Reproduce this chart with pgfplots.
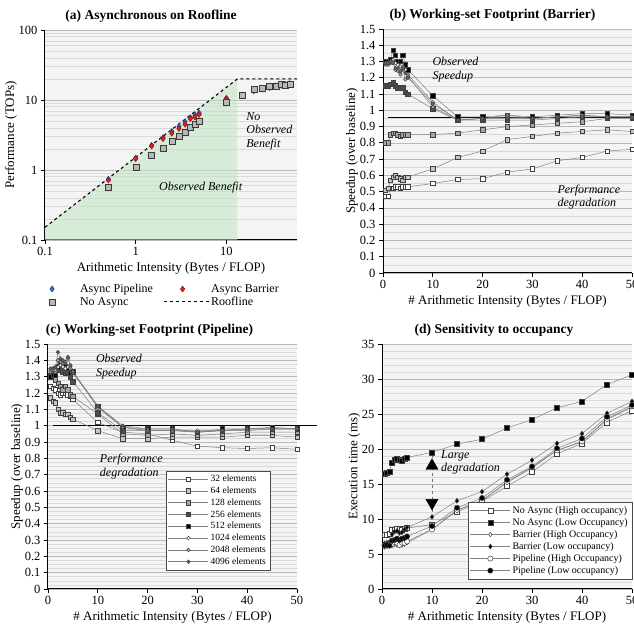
\documentclass[border=0pt]{standalone}
\usepackage{pgfplots}
\pgfplotsset{compat=1.18}
\usepackage{pgfplotstable}
\usepackage{fontspec}
\setmainfont{Liberation Serif}

\definecolor{panelbg}{gray}{0.955}
\definecolor{benefit}{RGB}{190,230,196}
\definecolor{pipeblue}{RGB}{55,105,205}
\definecolor{barrred}{RGB}{225,30,30}
\definecolor{sqgray}{gray}{0.72}
\definecolor{linegray}{gray}{0.5}

% (a) performance on the roofline
\pgfplotstableread{
x    pipe   barr   none
0.5  0.74   0.72   0.56
1    1.48   1.45   1.10
1.5  2.25   2.20   1.65
2    2.90   2.80   2.05
2.5  3.55   3.35   2.55
3    4.20   3.90   3.00
3.5  4.90   4.50   3.50
4    5.60   5.40   4.10
4.5  6.10   5.70   4.50
5    6.50   6.20   5.00
10   10.6   10.3   9.30
15   11.8   11.4   11.8
20   14.0   13.5   14.2
25   14.8   14.3   14.8
30   15.6   15.0   15.8
35   16.0   15.6   16.0
40   16.6   16.2   16.6
45   16.6   16.2   16.4
50   17.2   16.8   17.0
}\roofdata

% (b) barrier speedup per working-set size
\pgfplotstableread{
x    e32   e64   e128  e256  e512  e1024 e2048 e4096
0.5  0.47  0.51  0.80  1.15  1.30  1.29  1.28  1.29
1    0.47  0.52  0.80  1.15  1.30  1.29  1.28  1.29
1.5  0.52  0.57  0.85  1.16  1.31  1.30  1.29  1.30
2    0.52  0.59  0.86  1.17  1.37  1.31  1.30  1.29
2.5  0.53  0.60  0.86  1.15  1.34  1.29  1.25  1.26
3    0.53  0.59  0.85  1.14  1.30  1.28  1.24  1.26
3.5  0.52  0.58  0.84  1.14  1.30  1.27  1.22  1.24
4    0.53  0.57  0.85  1.14  1.34  1.27  1.25  1.26
4.5  0.53  0.59  0.85  1.11  1.28  1.25  1.19  1.23
5    0.53  0.59  0.85  1.10  1.25  1.22  1.21  1.20
10   0.55  0.64  0.85  1.01  1.09  1.05  1.02  1.04
15   0.575 0.71  0.86  0.94  0.96  0.94  0.94  0.94
20   0.58  0.75  0.88  0.94  0.96  0.95  0.95  0.95
25   0.62  0.82  0.90  0.94  0.97  0.97  0.96  0.95
30   0.64  0.84  0.91  0.94  0.96  0.95  0.95  0.95
35   0.69  0.86  0.92  0.95  0.97  0.96  0.96  0.96
40   0.71  0.87  0.93  0.96  0.98  0.97  0.97  0.96
45   0.75  0.88  0.95  0.96  0.98  0.96  0.96  0.96
50   0.76  0.87  0.95  0.96  0.97  0.96  0.96  0.96
}\barrierdata

% (c) pipeline speedup per working-set size
\pgfplotstableread{
x    e32   e64   e128  e256  e512  e1024 e2048 e4096
0.5  1.24  1.17  1.30  1.31  1.30  1.33  1.34  1.35
1    1.23  1.15  1.31  1.32  1.31  1.34  1.35  1.35
1.5  1.22  1.14  1.28  1.35  1.31  1.33  1.34  1.36
2    1.20  1.10  1.26  1.34  1.36  1.36  1.40  1.45
2.5  1.19  1.08  1.24  1.35  1.38  1.37  1.39  1.41
3    1.20  1.08  1.22  1.33  1.37  1.36  1.38  1.40
3.5  1.20  1.07  1.24  1.32  1.36  1.35  1.39  1.38
4    1.19  1.07  1.22  1.33  1.35  1.36  1.41  1.42
4.5  1.18  1.05  1.19  1.30  1.32  1.35  1.36  1.37
5    1.16  1.04  1.18  1.27  1.33  1.33  1.33  1.32
10   1.02  0.97  1.07  1.08  1.12  1.11  1.12  1.12
15   0.96  0.92  0.95  0.97  0.99  0.99  0.99  1.00
20   0.95  0.92  0.94  0.97  0.98  0.97  0.97  0.98
25   0.91  0.93  0.95  0.97  0.98  0.97  0.97  0.98
30   0.875 0.93  0.94  0.96  0.96  0.97  0.96  0.96
35   0.865 0.93  0.95  0.97  0.98  0.97  0.97  0.97
40   0.86  0.94  0.96  0.98  0.98  0.97  0.98  0.98
45   0.865 0.94  0.96  0.98  0.99  0.98  0.98  0.98
50   0.855 0.93  0.96  0.98  0.98  0.98  0.98  0.98
}\pipelinedata

% (d) execution time, high vs low occupancy
\pgfplotstableread{
x    nh    nl    bh    bl    ph    pl
0.5  7.8   16.5  6.0   6.5   6.2   6.2
1    7.8   16.6  6.1   6.6   6.2   6.3
1.5  7.9   16.7  6.1   6.7   6.3   6.2
2    8.4   18.1  6.2   7.8   6.4   6.9
2.5  8.5   18.5  6.4   8.2   6.7   7.0
3    8.6   18.6  6.3   8.3   6.6   7.2
3.5  8.6   18.5  6.2   8.0   6.3   7.0
4    8.5   18.3  6.3   8.1   6.6   7.2
4.5  8.6   18.6  6.4   8.5   6.6   7.3
5    8.7   18.8  6.6   8.8   6.8   7.5
10   9.2   19.5  8.5   10.3  8.5   9.0
15   11.0  20.7  11.2  12.6  11.3  11.6
20   12.5  21.4  12.7  13.9  12.6  13.0
25   14.7  23.0  15.2  16.4  15.3  15.6
30   16.7  24.2  17.3  18.4  17.4  17.5
35   19.3  25.9  19.8  20.8  19.8  20.1
40   20.8  26.8  21.0  22.2  21.1  21.5
45   23.8  29.2  24.2  25.1  24.3  24.6
50   25.5  30.6  26.0  26.8  26.1  26.3
}\occdata

\tikzset{annot/.style={font=\fontsize{12}{13.5}\selectfont\itshape, align=left, inner sep=0pt}}

\pgfplotsset{
  panel/.style={
    scale only axis,
    axis lines=left,
    axis line style={-, black, line width=1pt},
    tick align=outside,
    major tick length=4pt,
    minor tick length=0pt,
    tick style={black, line width=0.8pt},
    axis background/.style={fill=panelbg},
    ymajorgrids, yminorgrids,
    major grid style={gray!55, line width=0.7pt},
    minor grid style={gray!30, line width=0.6pt},
    tick label style={font=\fontsize{12.5}{14}\selectfont},
    label style={font=\fontsize{13}{15}\selectfont},
    title style={font=\fontsize{13.5}{15}\selectfont\bfseries},
    ylabel shift=-5pt,
    /pgf/number format/assume math mode=true,
    legend cell align=left,
  },
  ws/.style={color=linegray, line width=0.5pt, mark size=2.2pt,
    mark options={solid, draw=black!75, fill=#1}},
  wsleg/.style={
    legend image code/.code={
      \draw[mark repeat=2, mark phase=2, ##1] plot coordinates {(0pt,0pt) (20pt,0pt) (40pt,0pt)};}},
  markleg/.style={
    legend image code/.code={
      \path[draw=none, fill=none] (0pt,0pt) (45pt,0pt);
      \draw[##1] plot coordinates {(19pt,0pt)};}},
  roofleg/.style={
    legend image code/.code={\draw[##1] (0pt,0pt) -- (45pt,0pt);}},
}

\begin{document}
\begin{tikzpicture}
\useasboundingbox (0,0) rectangle (634pt,628pt);

% ---------------- (a)
\begin{axis}[panel,
  at={(45pt,388pt)}, anchor=south west, width=252pt, height=210pt,
  xmode=log, ymode=log, xmin=0.1, xmax=60, ymin=0.1, ymax=100,
  xtick={0.1,1,10}, xticklabels={0.1,1,10},
  ytick={0.1,1,10,100}, yticklabels={0.1,1,10,100},
  title={(a) Asynchronous on Roofline}, title style={xshift=-20pt, yshift=-2pt},
  xlabel={Arithmetic Intensity (Bytes / FLOP)},
  ylabel={Performance (TOPs)},
  legend columns=2,
  legend style={at={(-0.06,-0.19)}, anchor=north west, draw=none, fill=none,
    font=\fontsize{12}{13}\selectfont, row sep=-1pt,
    /tikz/every even column/.append style={column sep=8pt}},
]
\addplot[fill=benefit, fill opacity=0.55, draw=none, forget plot]
  coordinates {(0.1,0.1) (0.1,0.152) (13.2,20) (13.2,0.1)} -- cycle;
\addplot[only marks, mark=diamond*, mark size=3pt, markleg,
  mark options={fill=pipeblue, draw=pipeblue!60!black}]
  table[x=x, y=pipe] {\roofdata};
\addlegendentry{Async Pipeline}
\addplot[only marks, mark=diamond*, mark size=3pt, markleg,
  mark options={fill=barrred, draw=barrred!60!black}]
  table[x=x, y=barr] {\roofdata};
\addlegendentry{Async Barrier}
\addplot[only marks, mark=square*, mark size=3pt, markleg,
  mark options={fill=sqgray, draw=gray!45!black}]
  table[x=x, y=none] {\roofdata};
\addlegendentry{No Async}
\addplot[black, dashed, line width=1.1pt, roofleg]
  coordinates {(0.1,0.152) (13.2,20) (60,20)};
\addlegendentry{Roofline}
\node[annot, anchor=west] at (axis cs:16.5,3.6) {No\\Observed\\Benefit};
\node[annot] at (axis cs:5.2,0.57) {Observed Benefit};
\end{axis}

% ---------------- (b)
\begin{axis}[panel,
  at={(383pt,355pt)}, anchor=south west, width=249pt, height=244pt,
  xmin=0, xmax=50, ymin=0, ymax=1.5,
  xtick={0,10,20,30,40,50},
  ytick={0,0.1,0.2,0.3,0.4,0.5,0.6,0.7,0.8,0.9,1,1.1,1.2,1.3,1.4,1.5},
  minor y tick num=1,
  title={(b) Working-set Footprint (Barrier)}, title style={xshift=-15pt, yshift=-2pt},
  xlabel={\# Arithmetic Intensity (Bytes / FLOP)},
  ylabel={Speedup (over baseline)},
  clip=false,
]
\addplot[black, line width=1.3pt] coordinates {(1,0.955) (52,0.955)};
\addplot[ws=white, mark=square*] table[x=x, y=e32] {\barrierdata};
\addplot[ws=gray!45, mark=square*] table[x=x, y=e64] {\barrierdata};
\addplot[ws=gray!70, mark=square*] table[x=x, y=e128] {\barrierdata};
\addplot[ws=black!70, mark=square*] table[x=x, y=e256] {\barrierdata};
\addplot[ws=black, mark=square*] table[x=x, y=e512] {\barrierdata};
\addplot[ws=white, mark=*, mark size=1.8pt] table[x=x, y=e1024] {\barrierdata};
\addplot[ws=gray!60, mark=*, mark size=1.8pt] table[x=x, y=e2048] {\barrierdata};
\addplot[ws=black!60, mark=*, mark size=1.8pt] table[x=x, y=e4096] {\barrierdata};
\node[annot, anchor=west] at (axis cs:9.9,1.25) {Observed\\Speedup};
\node[annot, anchor=west] at (axis cs:35,0.468) {Performance\\degradation};
\end{axis}

% ---------------- (c)
\begin{axis}[panel,
  at={(48pt,39pt)}, anchor=south west, width=249pt, height=245pt,
  xmin=0, xmax=50, ymin=0, ymax=1.5,
  xtick={0,10,20,30,40,50},
  ytick={0,0.1,0.2,0.3,0.4,0.5,0.6,0.7,0.8,0.9,1,1.1,1.2,1.3,1.4,1.5},
  minor y tick num=3,
  title={(c) Working-set Footprint (Pipeline)}, title style={xshift=-23pt, yshift=-2pt},
  xlabel={\# Arithmetic Intensity (Bytes / FLOP)},
  ylabel={Speedup (over baseline)},
  clip=false,
  legend style={at={(0.474,0.482)}, anchor=north west, draw=gray!60!black, fill=white,
    font=\fontsize{9.5}{10}\selectfont, row sep=-0.3pt, inner sep=2pt},
]
\addplot[black, line width=1.3pt, forget plot] coordinates {(1,1.003) (54,1.003)};
\addplot[ws=white, mark=square*, wsleg] table[x=x, y=e32] {\pipelinedata};
\addlegendentry{32 elements}
\addplot[ws=gray!45, mark=square*, wsleg] table[x=x, y=e64] {\pipelinedata};
\addlegendentry{64 elements}
\addplot[ws=gray!70, mark=square*, wsleg] table[x=x, y=e128] {\pipelinedata};
\addlegendentry{128 elements}
\addplot[ws=black!70, mark=square*, wsleg] table[x=x, y=e256] {\pipelinedata};
\addlegendentry{256 elements}
\addplot[ws=black, mark=square*, wsleg] table[x=x, y=e512] {\pipelinedata};
\addlegendentry{512 elements}
\addplot[ws=white, mark=*, mark size=1.8pt, wsleg] table[x=x, y=e1024] {\pipelinedata};
\addlegendentry{1024 elements}
\addplot[ws=gray!60, mark=*, mark size=1.8pt, wsleg] table[x=x, y=e2048] {\pipelinedata};
\addlegendentry{2048 elements}
\addplot[ws=black!60, mark=*, mark size=1.8pt, wsleg] table[x=x, y=e4096] {\pipelinedata};
\addlegendentry{4096 elements}
\node[annot, anchor=west] at (axis cs:9.6,1.36) {Observed\\Speedup};
\node[annot, anchor=west] at (axis cs:10.4,0.75) {Performance\\degradation};
\end{axis}

% ---------------- (d)
\begin{axis}[panel,
  at={(382pt,39pt)}, anchor=south west, width=250pt, height=245pt,
  xmin=0, xmax=50, ymin=0, ymax=35,
  xtick={0,10,20,30,40,50},
  ytick={0,5,10,15,20,25,30,35},
  minor y tick num=4,
  title={(d) Sensitivity to occupancy}, title style={xshift=-13pt, yshift=-2pt},
  xlabel={\# Arithmetic Intensity (Bytes / FLOP)},
  ylabel={Execution time (ms)},
  clip=false,
  legend style={at={(1,0.355)}, anchor=north east, draw=gray!60!black, fill=white,
    font=\fontsize{10}{10.5}\selectfont, row sep=-0.4pt, inner sep=2pt},
]
\addplot[ws=white, mark=square*, mark size=2.5pt, wsleg] table[x=x, y=nh] {\occdata};
\addlegendentry{No Async (High occupancy)}
\addplot[ws=black, mark=square*, mark size=2.5pt, wsleg] table[x=x, y=nl] {\occdata};
\addlegendentry{No Async (Low Occupancy)}
\addplot[ws=white, mark=diamond*, mark size=2.2pt, wsleg] table[x=x, y=bh] {\occdata};
\addlegendentry{Barrier (High Occupancy)}
\addplot[ws=black, mark=diamond*, mark size=2.4pt, wsleg] table[x=x, y=bl] {\occdata};
\addlegendentry{Barrier (Low occupancy)}
\addplot[ws=white, mark=*, mark size=2.6pt, wsleg] table[x=x, y=ph] {\occdata};
\addlegendentry{Pipeline (High Occupancy)}
\addplot[ws=black, mark=*, mark size=2.6pt, wsleg] table[x=x, y=pl] {\occdata};
\addlegendentry{Pipeline (Low occupancy)}
\addplot[black!55, dashed, line width=0.6pt, forget plot] coordinates {(10,19.2) (10,10.6)};
\addplot[only marks, mark=triangle*, mark size=7pt, black, forget plot] coordinates {(10,17.6)};
\addplot[only marks, mark=triangle*, mark size=7pt, black, mark options={rotate=180}, forget plot] coordinates {(10,12.3)};
\node[annot, anchor=west] at (axis cs:11.8,18.1) {Large\\degradation};
\end{axis}
\end{tikzpicture}
\end{document}
